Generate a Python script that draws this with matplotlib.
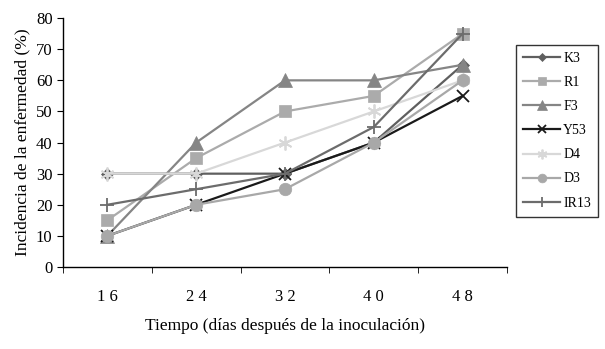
import matplotlib
matplotlib.use('Agg')
import matplotlib.pyplot as plt

# days after inoculation
dias = [16, 24, 32, 40, 48]
tick_labels = ['1 6', '2 4', '3 2', '4 0', '4 8']

k3 = [30, 30, 30, 40, 65]
r1 = [15, 35, 50, 55, 75]
f3 = [10, 40, 60, 60, 65]
y53 = [10, 20, 30, 40, 55]
d4 = [30, 30, 40, 50, 60]
d3 = [10, 20, 25, 40, 60]
ir13 = [20, 25, 30, 45, 75]

series = [
    ('K3', k3, '#5f5f5f', 'D', 6),
    ('R1', r1, '#ababab', 's', 9),
    ('F3', f3, '#858585', '^', 10),
    ('Y53', y53, '#1a1a1a', 'x', 9),
    ('D4', d4, '#d8d8d8', (6, 2, 0), 10),
    ('D3', d3, '#a8a8a8', 'o', 9),
    ('IR13', ir13, '#6c6c6c', '+', 10),
]

plt.rcParams['font.family'] = 'Liberation Serif'

fig = plt.figure(figsize=(6.05, 3.49), dpi=100)
ax = fig.add_axes([0.104, 0.235, 0.734, 0.713])

pos = list(range(len(dias)))
for name, vals, col, mk, ms in series:
    thin = mk in ('x', '+', (6, 2, 0))
    ax.plot(pos, vals, color=col, lw=1.6, marker=mk, markersize=ms,
            markeredgewidth=1.3 if thin else 0.5, markerfacecolor=col,
            markeredgecolor=col, label=name)

ax.set_xlim(-0.5, 4.5)
ax.set_ylim(0, 80)
ax.set_yticks(range(0, 81, 10))
ax.set_xticks(pos)
ax.set_xticklabels(tick_labels, fontsize=12)
ax.set_xticks([-0.5, 0.5, 1.5, 2.5, 3.5, 4.5], minor=True)
ax.tick_params(axis='x', which='major', length=0, pad=16)
ax.tick_params(axis='x', which='minor', length=4, direction='out', color='black')
ax.tick_params(axis='y', length=4, direction='out', labelsize=12)
for s in ['top', 'right']:
    ax.spines[s].set_visible(False)
for s in ['left', 'bottom']:
    ax.spines[s].set_color('black')
    ax.spines[s].set_linewidth(1.0)

ax.set_xlabel('Tiempo (días después de la inoculación)', fontsize=12.5, labelpad=9)
ax.set_ylabel('Incidencia de la enfermedad (%)', fontsize=12.5)

leg = fig.legend(loc='upper left', bbox_to_anchor=(516 / 605, 1 - 45 / 349),
                 frameon=True, fancybox=False, edgecolor='black', fontsize=10,
                 handlelength=2.7, labelspacing=0.8, borderpad=0.5,
                 handletextpad=0.2, borderaxespad=0, markerscale=0.7)
leg.get_frame().set_linewidth(1.0)

fig.savefig('out.png', dpi=100)
